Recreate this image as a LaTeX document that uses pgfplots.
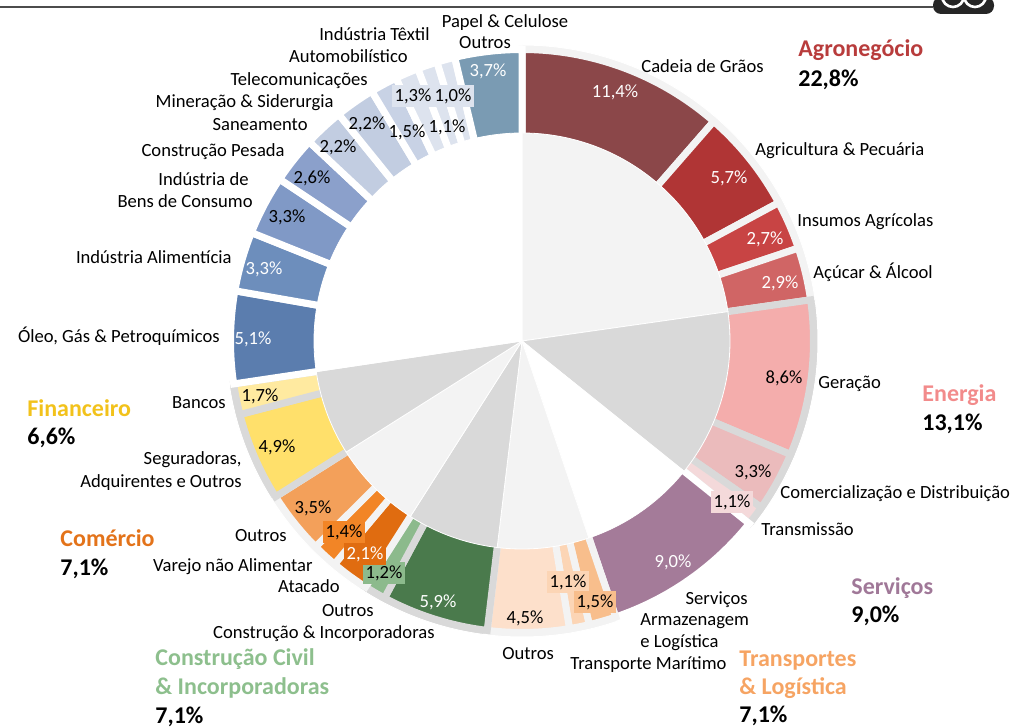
\documentclass[border=0pt]{standalone}
\usepackage{fontspec}
\setmainfont{Carlito}
\usepackage{pgfplots}
\usepackage{pgfplotstable}
\pgfplotsset{compat=1.18}

\definecolor{bgA}{HTML}{F3F3F3}
\definecolor{bgB}{HTML}{D9D9D9}
\definecolor{s1}{HTML}{8B4749}
\definecolor{s2}{HTML}{B03535}
\definecolor{s3}{HTML}{C84444}
\definecolor{s4}{HTML}{D06565}
\definecolor{s5}{HTML}{F4ADAC}
\definecolor{s6}{HTML}{EBBBBC}
\definecolor{s7}{HTML}{F4D9DA}
\definecolor{s8}{HTML}{A47B99}
\definecolor{s9}{HTML}{F8BE8C}
\definecolor{s10}{HTML}{FCD5B5}
\definecolor{s11}{HTML}{FDE0CB}
\definecolor{s12}{HTML}{4A7A4C}
\definecolor{s13}{HTML}{8CBA8C}
\definecolor{s14}{HTML}{E06C10}
\definecolor{s15}{HTML}{F28526}
\definecolor{s16}{HTML}{F3A05A}
\definecolor{s17}{HTML}{FFE06B}
\definecolor{s18}{HTML}{FFEAA0}
\definecolor{s19}{HTML}{5B7DAE}
\definecolor{s20}{HTML}{6D8EBC}
\definecolor{s21}{HTML}{8099C6}
\definecolor{s22}{HTML}{8BA0CB}
\definecolor{s23}{HTML}{C2CDE1}
\definecolor{s24}{HTML}{C2CDE1}
\definecolor{s25}{HTML}{C8D2E5}
\definecolor{s26}{HTML}{DDE3EE}
\definecolor{s27}{HTML}{DDE3EE}
\definecolor{s28}{HTML}{DDE3EE}
\definecolor{s29}{HTML}{7A9BB3}
\definecolor{tAgro}{HTML}{B83C3C}
\definecolor{tEner}{HTML}{F28B8B}
\definecolor{tServ}{HTML}{A07898}
\definecolor{tTran}{HTML}{F6A463}
\definecolor{tCons}{HTML}{8DBF8D}
\definecolor{tCome}{HTML}{E3731A}
\definecolor{tFina}{HTML}{F2C21B}

\pgfplotstableread{
val col
22.7 bgA
13.0 bgB
9.0 white
7.1 bgA
7.1 bgB
7.0 bgA
6.6 bgB
27.3 white
}\grps

\pgfplotstableread{
val col bd
11.4 s1 bgA
5.7 s2 bgA
2.7 s3 bgA
2.9 s4 bgA
8.6 s5 bgB
3.3 s6 bgB
1.1 s7 bgB
9.0 s8 white
1.5 s9 bgA
1.1 s10 bgA
4.5 s11 bgA
5.9 s12 bgB
1.2 s13 bgB
2.1 s14 bgA
1.4 s15 bgA
3.5 s16 bgA
4.9 s17 bgB
1.7 s18 bgB
5.1 s19 white
3.3 s20 white
3.3 s21 white
2.6 s22 white
2.2 s23 white
2.2 s24 white
1.5 s25 white
1.3 s26 white
1.1 s27 white
1.0 s28 white
3.7 s29 white
}\segs

\newcommand\lbl[4]{\node[font=\fontsize{9.3}{11}\selectfont, anchor=#3, inner sep=0pt] at (axis cs:#1,{721-#2}) {#4};}
\newcommand\pct[4][]{\node[font=\fontsize{9.3}{11}\selectfont, anchor=center, inner sep=1.5pt, #1] at (axis cs:#2,{727-#3}) {#4};}
\newcommand\ttl[4]{\node[font=\fontsize{12}{14}\selectfont\bfseries, anchor=base west, inner sep=0pt, text=#3] at (axis cs:#1,{719-#2}) {#4};}

\newcommand\drawpie[4]{% table, nrows-1, radius, style
  \def\gcum{0}%
  \pgfplotsforeachungrouped \i in {0,...,#2}{%
    \pgfplotstablegetelem{\i}{val}\of#1\let\segval\pgfplotsretval
    \pgfplotstablegetelem{\i}{col}\of#1\let\segcol\pgfplotsretval
    \pgfmathsetmacro\sa{90-\gcum/99.8*360}%
    \pgfmathsetmacro\gcum{\gcum+\segval}%
    \pgfmathsetmacro\ea{90-\gcum/99.8*360}%
    \edef\tmp{\noexpand\addplot[fill=\segcol, #4, domain=\ea:\sa, samples=90] ({522+#3*cos(x)},{386+#3*sin(x)}) -- (axis cs:522,386) -- cycle;}%
    \tmp
  }%
}

\begin{document}
\begin{tikzpicture}
\useasboundingbox (0,0) rectangle (507pt,363.5pt);
\clip (0,0) rectangle (507pt,363.5pt);
\begin{axis}[hide axis, scale only axis, width=507pt, height=363.5pt,
  xmin=0, xmax=1014, ymin=0, ymax=727, clip=false, anchor=south west, at={(0,0)}]

% group background pie (outer band)
\drawpie{\grps}{7}{296}{draw=white, line width=0.5pt}

% ring segments
\def\gcum{0}
\pgfplotsforeachungrouped \i in {0,...,28}{%
  \pgfplotstablegetelem{\i}{val}\of\segs\let\segval\pgfplotsretval
  \pgfplotstablegetelem{\i}{col}\of\segs\let\segcol\pgfplotsretval
  \pgfplotstablegetelem{\i}{bd}\of\segs\let\segbd\pgfplotsretval
  \pgfmathsetmacro\sa{90-\gcum/99.8*360}%
  \pgfmathsetmacro\gcum{\gcum+\segval}%
  \pgfmathsetmacro\ea{90-\gcum/99.8*360}%
  \edef\tmp{\noexpand\addplot[fill=\segcol, draw=\segbd, line width=3.5pt, domain=\ea:\sa, samples=90] ({522+291.5*cos(x)},{386+291.5*sin(x)}) -- (axis cs:522,386) -- cycle;}%
  \tmp
}

% inner pie
\drawpie{\grps}{7}{208}{draw=white, line width=0.4pt}

% header
\addplot[draw=black!70, line width=1pt] coordinates {(0,720) (933,720)};
\fill[black!85, rounded corners=4pt] (axis cs:933,713) rectangle (axis cs:994,730);
\draw[white, line width=1.3pt] (axis cs:953,731) circle (5.5pt);
\draw[white, line width=1.3pt] (axis cs:975,731) circle (5.5pt);

% titles
\ttl{798}{49}{tAgro}{Agronegócio}
\ttl{798}{79}{black}{22,8\%}
\ttl{922}{394}{tEner}{Energia}
\ttl{922}{423}{black}{13,1\%}
\ttl{851}{587}{tServ}{Serviços}
\ttl{851}{615}{black}{9,0\%}
\ttl{739}{659}{tTran}{Transportes}
\ttl{739}{687}{tTran}{\& Logística}
\ttl{739}{715}{black}{7,1\%}
\ttl{155}{658}{tCons}{Construção Civil}
\ttl{155}{687}{tCons}{\& Incorporadoras}
\ttl{155}{716}{black}{7,1\%}
\ttl{60}{539}{tCome}{Comércio}
\ttl{60}{568}{black}{7,1\%}
\ttl{27}{409}{tFina}{Financeiro}
\ttl{27}{437}{black}{6,6\%}

% category labels
\lbl{641}{67}{base west}{Cadeia de Grãos}
\lbl{755}{150}{base west}{Agricultura \& Pecuária}
\lbl{797}{221}{base west}{Insumos Agrícolas}
\lbl{813}{273}{base west}{Açúcar \& Álcool}
\lbl{818}{383}{base west}{Geração}
\lbl{780}{493}{base west}{Comercialização e Distribuição}
\lbl{761}{530}{base west}{Transmissão}
\lbl{748}{599}{base east}{Serviços}
\lbl{640}{620}{base west}{Armazenagem}
\lbl{640}{642}{base west}{e Logística}
\lbl{570}{664}{base west}{Transporte Marítimo}
\lbl{502}{654}{base west}{Outros}
\lbl{435}{633}{base east}{Construção \& Incorporadoras}
\lbl{374}{611}{base east}{Outros}
\lbl{340}{587}{base east}{Atacado}
\lbl{313}{566}{base east}{Varejo não Alimentar}
\lbl{287}{536}{base east}{Outros}
\lbl{242}{459}{base east}{Seguradoras,}
\lbl{242}{482}{base east}{Adquirentes e Outros}
\lbl{226}{403}{base east}{Bancos}
\lbl{220}{337}{base east}{Óleo, Gás \& Petroquímicos}
\lbl{232}{258}{base east}{Indústria Alimentícia}
\lbl{249}{180}{base east}{Indústria de}
\lbl{253}{202}{base east}{Bens de Consumo}
\lbl{285}{151}{base east}{Construção Pesada}
\lbl{308}{125}{base east}{Saneamento}
\lbl{334}{102}{base east}{Mineração \& Siderurgia}
\lbl{368}{80}{base east}{Telecomunicações}
\lbl{408}{57}{base east}{Automobilístico}
\lbl{430}{35}{base east}{Indústria Têxtil}
\lbl{505}{22}{base}{Papel \& Celulose}
\lbl{485}{43}{base}{Outros}

% percentage labels
\pct[text=white]{615}{92}{11,4\%}
\pct[text=white]{729}{178}{5,7\%}
\pct[text=white]{765}{239}{2,7\%}
\pct[text=white]{780}{283}{2,9\%}
\pct{784}{378}{8,6\%}
\pct{753}{472}{3,3\%}
\pct[fill=s7]{732}{502}{1,1\%}
\pct[text=white]{673}{562}{9,0\%}
\pct[fill=s10]{568}{582}{1,1\%}
\pct[fill=s9]{595}{602}{1,5\%}
\pct{525}{618}{4,5\%}
\pct[text=white]{438}{602}{5,9\%}
\pct[fill=s13]{384}{573}{1,2\%}
\pct[fill=s14, text=white]{365}{554}{2,1\%}
\pct[fill=s15]{344}{532}{1,4\%}
\pct{313}{508}{3,5\%}
\pct{277}{447}{4,9\%}
\pct{260}{396}{1,7\%}
\pct[text=white]{253}{339}{5,1\%}
\pct[text=white]{264}{269}{3,3\%}
\pct{287}{217}{3,3\%}
\pct{312}{178}{2,6\%}
\pct{338}{147}{2,2\%}
\pct{367}{124}{2,2\%}
\pct{407}{132}{1,5\%}
\pct[fill=s26]{413}{96}{1,3\%}
\pct{447}{127}{1,1\%}
\pct[fill=s26]{453}{96}{1,0\%}
\pct[text=white]{488}{71}{3,7\%}

\end{axis}
\end{tikzpicture}
\end{document}
